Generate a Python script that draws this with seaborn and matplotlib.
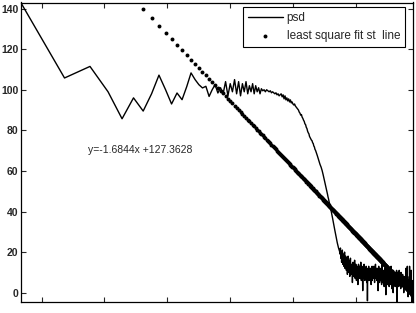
import numpy as np
import pandas as pd
import matplotlib
matplotlib.use("Agg")
import matplotlib.pyplot as plt
import seaborn as sns

sns.set_style("white")
plt.rcParams["font.family"] = ["Liberation Sans", "DejaVu Sans"]

# psd values, one per frequency bin (bins 1..512)
psd = [
    # bins 1-23
    142.8, 105.8, 111.5, 99, 85.7, 96, 89.5, 98, 107.2, 100, 93, 98.4,
    95.1, 101.5, 108.3, 105, 102.5, 100.9, 101.7, 96.7, 100, 102.5, 98.4,
    # bins 24-45
    101, 98, 104, 97, 103, 99, 105, 98, 104, 97, 103, 99, 104, 98, 102, 99,
    103, 98, 102, 99, 101, 98,
    # bins 46-62
    100.5, 99.5, 100, 99, 100, 99.5, 99, 99.5, 98.5, 99, 98.5, 98, 98.5,
    97.5, 98, 97, 97.5,
    # bins 63-83
    98, 96.5, 97.5, 95.5, 97, 95, 96, 94.5, 95.5, 94, 95, 93.5, 94, 93,
    92.5, 93, 92, 91.5, 91, 90.5, 90,
    # bins 84-160 (roll-off)
    89, 88.5, 87.5, 87.8, 86.5, 85.9, 85, 84.4, 83.2, 82.8,
    81.5, 80.9, 79.6, 78.8, 78.3, 77, 76.4, 75.8, 75.2, 74.9,
    73.9, 73.5, 72.3, 71.8, 70.6, 70.1, 69.3,
    68.6, 67.6, 66.7, 65.7, 64.8, 63.9, 63.2, 62.6, 61.9,
    61.1, 60.2, 59.2, 58.1, 57, 55.8, 54.8, 53.6, 52.6, 51.4,
    50.4, 49.3, 48.3, 47.1, 46.2, 45, 44.1, 42.9, 42, 40.8,
    39.9, 38.7, 37.8, 36.6, 35.5, 34.3, 33.2, 32, 30.9, 29.8,
    28.7, 27.6, 26.6, 25.5, 24.6, 23.7, 22.9, 22.1, 21.4, 20.8, 20.2,
    # bins 161-512 (noise floor)
    19, 22, 17, 20, 15, 18, 21, 14, 17, 19, 13, 16, 20, 12, 15, 18,
    14, 11, 17, 13, 9, 15, 18, 12, 10, 16, 13, 8, 14, 17, 11, 13,
    9, 14, 12, 5, 11, 15, 10, 8, 13, 11, 16, 9, 7, 12, 14, 10,
    6, 11, 13, 9, 12, 4, 10, 14, 8, 11, 9, 13, 7, 10, 12, 15,
    9, 6, 11, 13, 8, 10, 1, 9, 12, 7, 11, 14, 8, 10, 6, 12,
    9, 11, 7, 13, 10, 5, 8, 12, -4, 9, 11, 6, 10, 13, 8, 7,
    11, 9, 6, 10, 12, 7, 9, 4, 11, 8, 10, 13, 6, 9, 7, 10,
    10, 7, 11, 13, 8, 10, 5, 12, 9, 11, 14, 7, 10, 8, 12, 9,
    6, 11, 9, 7, 12, 8, 1, 10, 9, 13, 7, 8, 11, 5, 10, 9,
    12, 7, 9, 6, 10, 8, 11, 4, 9, 7, 14, 8, 6, 10, 9, 5,
    8, 11, 7, 9, 3, 8, 10, 6, 12, 7, 9, 5, 8, -1, 7, 10,
    6, 9, 7, 11, 5, 8, 4, 10, 7, 6, 12, 8, 5, 9, 7, 3,
    8, 10, 6, 7, 11, 5, 9, 7, 4, 8, 13, 6, 9, 7, 2, 8,
    10, 5, 7, 9, 6, 8, 0, 7, 11, 5, 8, 6, 9, 4, 7, 10,
    6, 8, 3, 7, 10, 5, 7, 9, 4, 6, 8, 11, 5, 7, -4.5, 6,
    8, 5, 7, 10, 4, 6, 9, 5, 7, 3, 8, 6, 11, 5, 7, 4,
    6, 9, 4, 7, 5, 8, 2, 6, 10, 5, 7, 4, 6, 8, 3, 5,
    7, 4, 6, 9, 5, 3, 7, 5, 8, 4, 6, 0, 5, 7, 4, 6,
    3, 7, 5, 4, 8, 5, 6, 2, 5, 7, 4, 12, 5, 3, 6, 4,
    5, 7, 3, 4, 6, 13, 5, 8, 4, 3, 5, -2, 4, 6, 3, 5,
    2, 4, 6, 3, 5, 1, 13, 7, 3, 2, 4, 5, 0, 3, 6, 2,
    4, 1, 3, 11, 2, -2, 3, 4, 1, -4.5, 6, -3, 3, 2, 0, -4,
]

# least square straight line (against log10 of the bin)
fit_intercept = 203.7
fit_slope = -75.5
fit_label = "y=-1.6844x +127.3628"

ytick_vals = [0, 20, 40, 60, 80, 100, 120, 140]
xtick_vals = [1.39, 3.78, 10.27, 27.9, 75.9, 206.0]

df = pd.DataFrame({"bin": np.arange(1, len(psd) + 1), "psd": psd})
df["fit"] = fit_intercept + fit_slope * np.log10(df["bin"])

fig = plt.figure(figsize=(4.16, 3.13), dpi=100)
ax = fig.add_axes([21 / 416, 11 / 313, (412.7 - 21) / 416, (310.5 - 11) / 313])

sns.lineplot(data=df, x="bin", y="psd", color="black", linewidth=1.0,
             label="psd", ax=ax)
sns.scatterplot(data=df, x="bin", y="fit", color="black", marker="o", s=8,
                linewidth=0, label="least square fit st  line", ax=ax)

ax.set_xscale("log")
ax.set_xlim(1, 512)
ax.set_ylim(-4.6, 143)
ax.set_xlabel("")
ax.set_ylabel("")

ax.set_xticks(xtick_vals)
ax.set_xticks([], minor=True)
ax.set_xticklabels([])
ax.set_yticks(ytick_vals)
ax.set_yticklabels([str(v) for v in ytick_vals], fontsize=7.5, fontweight="bold")
ax.tick_params(axis="both", which="both", direction="in", length=3.5, width=0.8,
               top=True, right=True, bottom=True, left=True, pad=2)

for s in ax.spines.values():
    s.set_visible(True)
    s.set_color("black")
    s.set_linewidth(0.9)

ax.text(2.9, 70.4, fit_label, fontsize=7.5, va="center", ha="left")

leg = ax.legend(loc="upper right", bbox_to_anchor=(0.98, 0.984), borderaxespad=0,
                fontsize=8.5, frameon=True, fancybox=False, framealpha=1,
                edgecolor="black", handlelength=3.0, handletextpad=0.3,
                markerscale=1.0, borderpad=0.4, labelspacing=0.5)
leg.get_frame().set_linewidth(0.8)

fig.savefig("out.png", dpi=100)
